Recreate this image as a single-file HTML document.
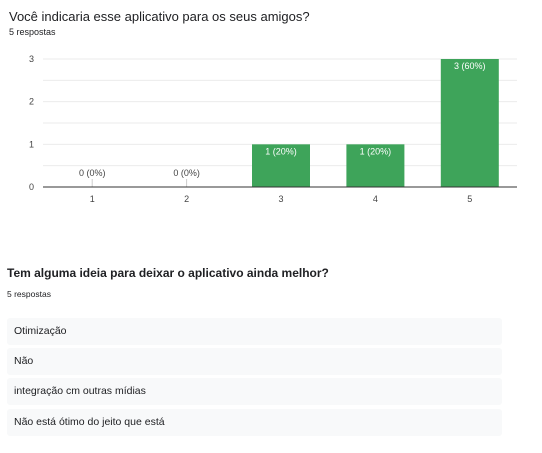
<!DOCTYPE html>
<html><head><meta charset="utf-8"><style>
body{margin:0;width:542px;height:453px;background:#fff;font-family:"Liberation Sans",sans-serif;position:relative;overflow:hidden}
.abs{position:absolute}
.row{position:absolute;left:7px;width:495px;height:27px;background:#f8f9fa;border-radius:3px;font-size:10.5px;color:#202124;line-height:27px;padding-left:7px;box-sizing:border-box}
</style></head><body>
<div class="abs" style="left:9px;top:9px;font-size:13px;color:#202124">Você indicaria esse aplicativo para os seus amigos?</div>
<div class="abs" style="left:9px;top:27px;font-size:9px;color:#202124">5 respostas</div>
<svg class="abs" style="left:0;top:0" width="542" height="215" font-family="Liberation Sans, sans-serif">
<g id="grid"></g><g id="bars"></g><g id="labels"></g>
</svg>
<div class="abs" style="left:7px;top:266px;font-size:12px;font-weight:bold;color:#202124">Tem alguma ideia para deixar o aplicativo ainda melhor?</div>
<div class="abs" style="left:7px;top:289px;font-size:8.5px;color:#202124">5 respostas</div>
<div class="row" style="top:318px">Otimização</div>
<div class="row" style="top:348px">Não</div>
<div class="row" style="top:378px">integração cm outras mídias</div>
<div class="row" style="top:409px">Não está ótimo do jeito que está</div>
<script>
const categories=["1","2","3","4","5"];
const values=[0,0,1,1,3];
const valueLabels=["0 (0%)","0 (0%)","1 (20%)","1 (20%)","3 (60%)"];
const yTicks=[0,1,2,3];
const NS="http://www.w3.org/2000/svg";
const gx0=43,x0=45,x1=517,yBase=187,yTop=59,yMax=3;
const y=v=>yBase-(yBase-yTop)*v/yMax;
const band=(x1-x0)/categories.length;
const xc=i=>x0+band*(i+0.5);
function mk(tag,attrs,parent){const e=document.createElementNS(NS,tag);for(const k in attrs)e.setAttribute(k,attrs[k]);document.getElementById(parent).appendChild(e);return e;}
for(let v=0.5;v<=yMax;v+=0.5){
 const l=mk("line",{x1:gx0,x2:x1,y1:y(v),y2:y(v),stroke:"#ebebeb","stroke-width":1},"grid");
 
 
}
yTicks.forEach(t=>{
 const tx=mk("text",{x:34,y:y(t)+3,"font-size":9,fill:"#444","text-anchor":"end"},"grid");tx.textContent=t;
 
 
});
categories.forEach((c,i)=>{
 const cx=xc(i);
 const tx=mk("text",{x:cx,y:y(0)+15,"font-size":9,fill:"#444","text-anchor":"middle"},"labels");tx.textContent=c;
 
 
 if(values[i]>0){
  const r=mk("rect",{x:cx-29,y:y(values[i]),width:58,height:y(0)-y(values[i]),fill:"#3ea45a"},"bars");
  
  
  const t=mk("text",{x:cx,y:y(values[i])+10,"font-size":9,fill:"#fff","text-anchor":"middle"},"labels");t.textContent=valueLabels[i];
  
  
 }else{
  const tk=mk("line",{x1:cx,x2:cx,y1:y(0)-8,y2:y(0),stroke:"#ccc","stroke-width":1},"bars");
  
  
  const t=mk("text",{x:cx,y:y(0)-11,"font-size":9,fill:"#444","text-anchor":"middle"},"labels");t.textContent=valueLabels[i];
  
  
 }
});
const ax=mk("line",{x1:gx0,x2:x1,y1:y(0),y2:y(0),stroke:"#333","stroke-width":1},"labels");


</script>
</body></html>
